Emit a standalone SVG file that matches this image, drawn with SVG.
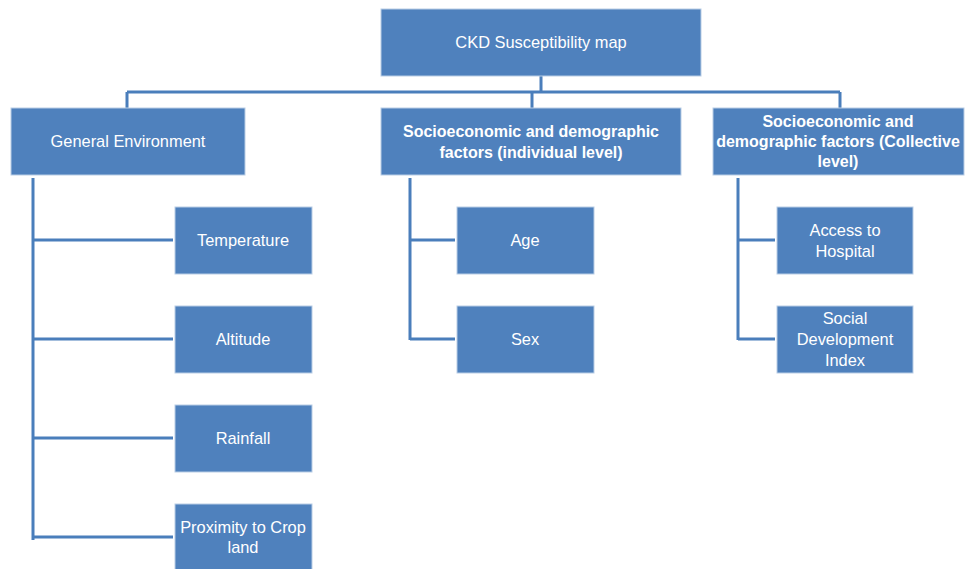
<svg xmlns="http://www.w3.org/2000/svg" width="965" height="569" viewBox="0 0 965 569">
<style>
.box{fill:#4F81BD;stroke:#B9CDE5;stroke-width:1}
.t{font-family:"Liberation Sans",Arial,sans-serif;font-size:16.4px;fill:#FFFFFF;text-anchor:middle}
.b{font-weight:bold;font-size:16px}
.c{fill:none;stroke:#4A7EBB;stroke-width:3}
</style>
<rect width="965" height="569" fill="#FFFFFF"/>
<g id="connectors">
<path class="c" d="M541 76V92M127 92H840M127 92V108M532 92V108M840 92V108"/>
<path class="c" d="M33 178V540M33 240H173M33 339H173M33 438H173M33 537H173"/>
<path class="c" d="M410 178V340M410 240H455M410 339H455"/>
<path class="c" d="M738 178V340M738 240H775M738 339H775"/>
</g>
<g id="root"><rect class="box" x="381" y="9" width="320" height="67"/><text class="t" x="541" y="48">CKD Susceptibility map</text></g>
<g id="general"><rect class="box" x="11" y="108" width="234" height="67"/><text class="t" x="128" y="147">General Environment</text></g>
<g id="individual"><rect class="box" x="381" y="108" width="300" height="67"/><text class="t b" x="531" y="137">Socioeconomic and demographic</text><text class="t b" x="531" y="158">factors (individual level)</text></g>
<g id="collective"><rect class="box" x="713" y="108" width="251" height="67"/><text class="t b" x="838" y="127">Socioeconomic and</text><text class="t b" x="838" y="147">demographic factors (Collective</text><text class="t b" x="838" y="167">level)</text></g>
<g id="temperature"><rect class="box" x="175" y="207" width="137" height="67"/><text class="t" x="243" y="246">Temperature</text></g>
<g id="altitude"><rect class="box" x="175" y="306" width="137" height="67"/><text class="t" x="243" y="345">Altitude</text></g>
<g id="rainfall"><rect class="box" x="175" y="405" width="137" height="67"/><text class="t" x="243" y="444">Rainfall</text></g>
<g id="proximity"><rect class="box" x="175" y="504" width="137" height="67"/><text class="t" x="243" y="533">Proximity to Crop</text><text class="t" x="243" y="553">land</text></g>
<g id="age"><rect class="box" x="457" y="207" width="137" height="67"/><text class="t" x="525" y="246">Age</text></g>
<g id="sex"><rect class="box" x="457" y="306" width="137" height="67"/><text class="t" x="525" y="345">Sex</text></g>
<g id="hospital"><rect class="box" x="777" y="207" width="136" height="67"/><text class="t" x="845" y="236">Access to</text><text class="t" x="845" y="257">Hospital</text></g>
<g id="sdi"><rect class="box" x="777" y="306" width="136" height="67"/><text class="t" x="845" y="324">Social</text><text class="t" x="845" y="345">Development</text><text class="t" x="845" y="366">Index</text></g>
</svg>
